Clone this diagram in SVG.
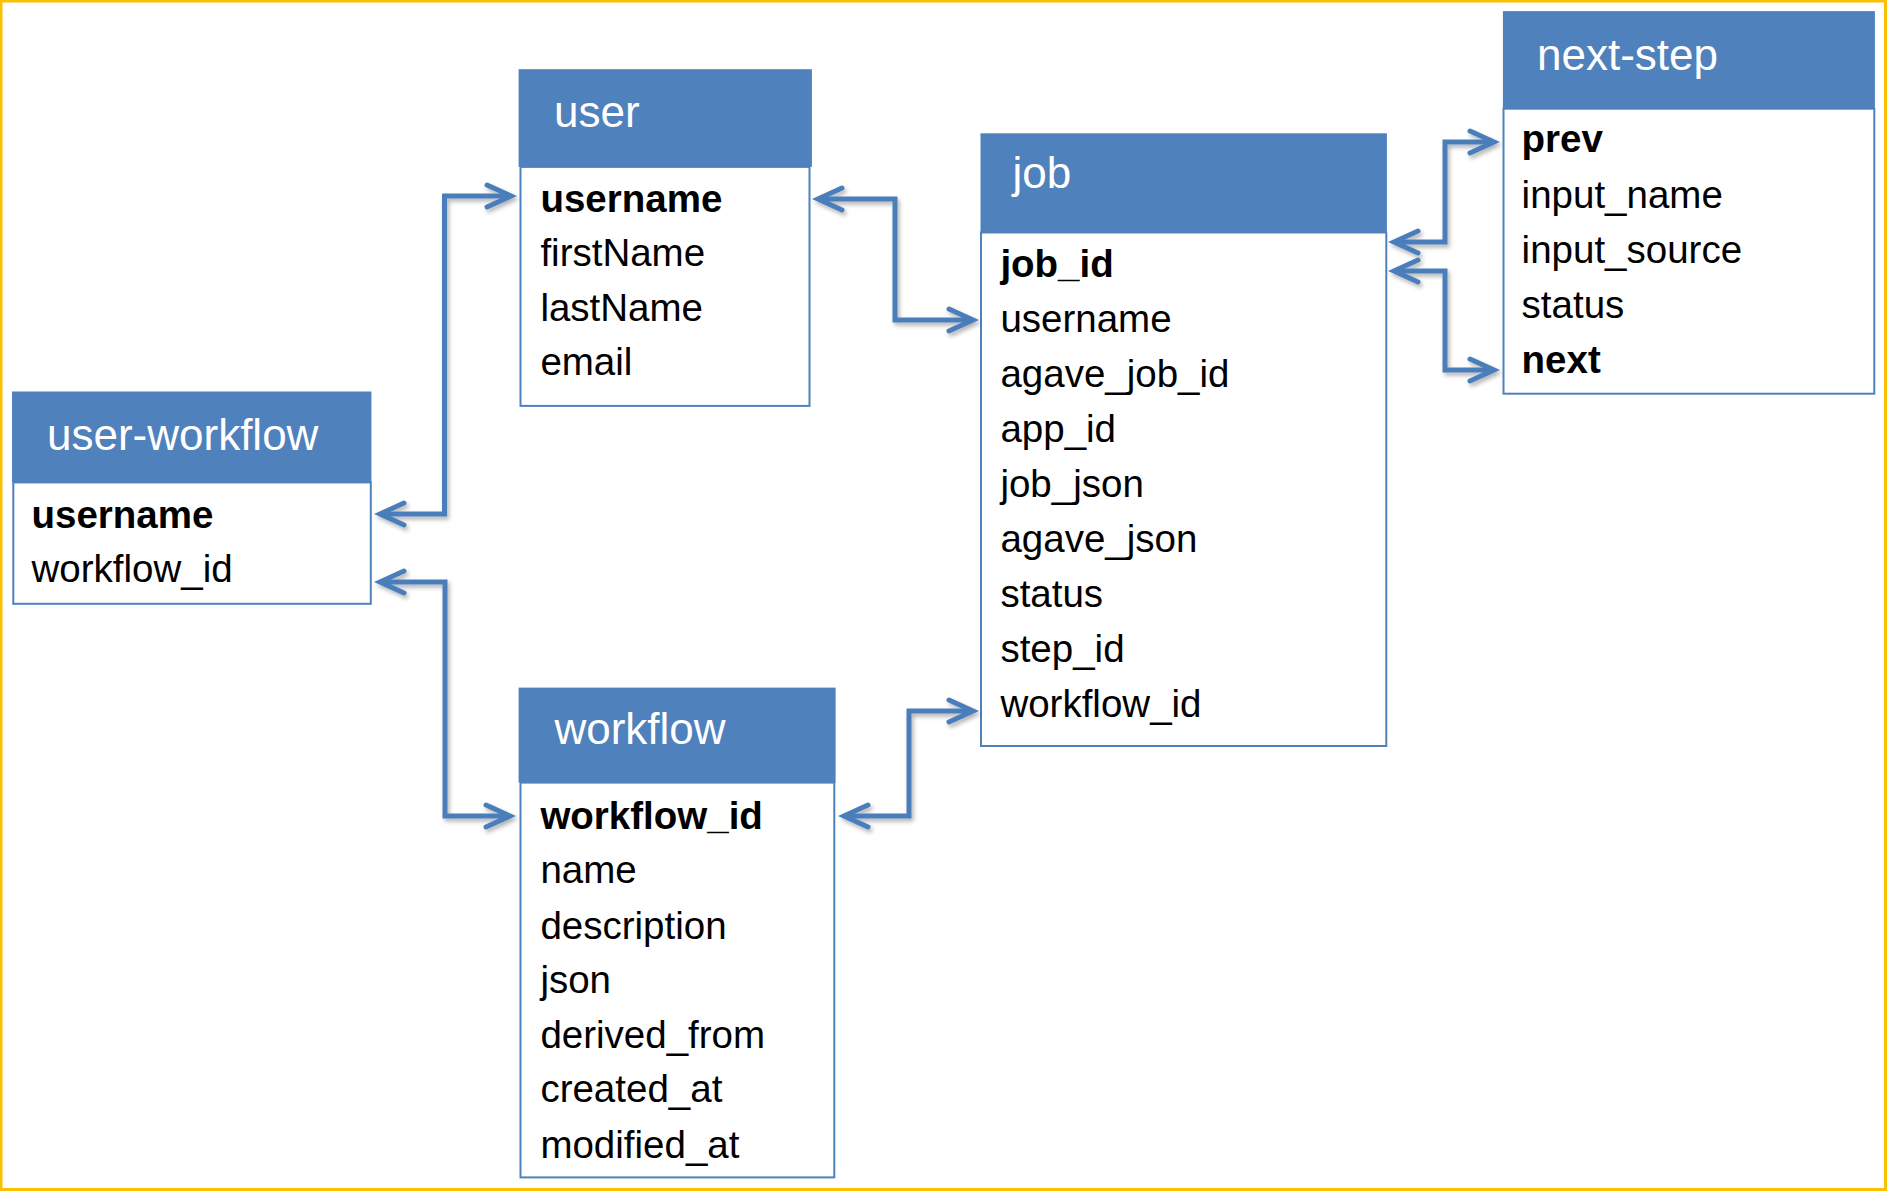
<svg xmlns="http://www.w3.org/2000/svg" width="1887" height="1191" viewBox="0 0 1887 1191">
<style>
.hdr{fill:#4f81bd;}
.body{fill:#ffffff;stroke:#4f81bd;stroke-width:2;}
.title{font-family:"Liberation Sans",Arial,sans-serif;font-size:44px;fill:#ffffff;}
.f{font-family:"Liberation Sans",Arial,sans-serif;font-size:38.5px;fill:#000000;}
.b{font-weight:bold;}
.conn{fill:none;stroke:#4a7ebb;stroke-width:5;stroke-linejoin:miter;marker-start:url(#ah);marker-end:url(#ah);}
</style>
<defs>
<marker id="ah" markerUnits="userSpaceOnUse" markerWidth="40" markerHeight="40" viewBox="-30 -20 40 40" refX="0" refY="0" orient="auto-start-reverse" overflow="visible">
<path d="M-24,-11 L0,0 L-24,11" fill="none" stroke="#4a7ebb" stroke-width="5" stroke-linecap="round" stroke-linejoin="miter"/>
</marker>
<filter id="sh" x="-20%" y="-20%" width="140%" height="140%">
<feDropShadow dx="2" dy="3" stdDeviation="2" flood-color="#000000" flood-opacity="0.3"/>
</filter>
</defs>
<rect x="0" y="0" width="1887" height="1191" fill="#ffffff"/>
<rect x="1" y="1" width="1884.5" height="1188.5" fill="none" stroke="#fbc000" stroke-width="3"/>

<g id="user-workflow">
<rect class="body" x="13.3" y="482.4" width="357.5" height="121.4"/>
<rect class="hdr" x="12" y="391.5" width="359.4" height="91"/>
<text class="title" x="47" y="450">user-workflow</text>
<text class="f b" x="31.5" y="528">username</text>
<text class="f" x="31.5" y="582">workflow_id</text>
</g>

<g id="user">
<rect class="body" x="520.5" y="166.9" width="289" height="239"/>
<rect class="hdr" x="518.6" y="69.2" width="293.3" height="97.7"/>
<text class="title" x="554" y="126.5">user</text>
<text class="f b" x="540.4" y="211.5">username</text>
<text class="f" x="540.4" y="266">firstName</text>
<text class="f" x="540.4" y="320.5">lastName</text>
<text class="f" x="540.4" y="375">email</text>
</g>

<g id="job">
<rect class="body" x="981" y="232.5" width="405.3" height="513.5"/>
<rect class="hdr" x="980.5" y="133.3" width="406.4" height="99.2"/>
<text class="title" x="1012.5" y="188">job</text>
<text class="f b" x="1000.4" y="276.5">job_id</text>
<text class="f" x="1000.4" y="331.6">username</text>
<text class="f" x="1000.4" y="386.7">agave_job_id</text>
<text class="f" x="1000.4" y="441.8">app_id</text>
<text class="f" x="1000.4" y="496.9">job_json</text>
<text class="f" x="1000.4" y="552">agave_json</text>
<text class="f" x="1000.4" y="607.1">status</text>
<text class="f" x="1000.4" y="662.2">step_id</text>
<text class="f" x="1000.4" y="717.3">workflow_id</text>
</g>

<g id="next-step">
<rect class="body" x="1503.5" y="108.7" width="370.8" height="285"/>
<rect class="hdr" x="1502.9" y="11.1" width="372" height="97.6"/>
<text class="title" x="1537" y="70.4">next-step</text>
<text class="f b" x="1521.6" y="152.2">prev</text>
<text class="f" x="1521.6" y="207.6">input_name</text>
<text class="f" x="1521.6" y="263">input_source</text>
<text class="f" x="1521.6" y="317.5">status</text>
<text class="f b" x="1521.6" y="372.9">next</text>
</g>

<g id="workflow">
<rect class="body" x="520.5" y="782.6" width="313.8" height="394.8"/>
<rect class="hdr" x="518.6" y="687.6" width="317" height="95"/>
<text class="title" x="554.4" y="743.7">workflow</text>
<text class="f b" x="540.4" y="829.4">workflow_id</text>
<text class="f" x="540.4" y="883.2">name</text>
<text class="f" x="540.4" y="938.5">description</text>
<text class="f" x="540.4" y="993">json</text>
<text class="f" x="540.4" y="1047.6">derived_from</text>
<text class="f" x="540.4" y="1102.2">created_at</text>
<text class="f" x="540.4" y="1157.6">modified_at</text>
</g>

<g id="connectors" filter="url(#sh)">
<path class="conn" d="M380,514 H444.5 V196 H511"/>
<path class="conn" d="M380,582 H445 V816 H510"/>
<path class="conn" d="M818,199 H895 V320 H973"/>
<path class="conn" d="M1394,242 H1445 V142 H1494"/>
<path class="conn" d="M1394,271 H1445 V370 H1494"/>
<path class="conn" d="M844,816 H909 V711 H973"/>
</g>
</svg>
